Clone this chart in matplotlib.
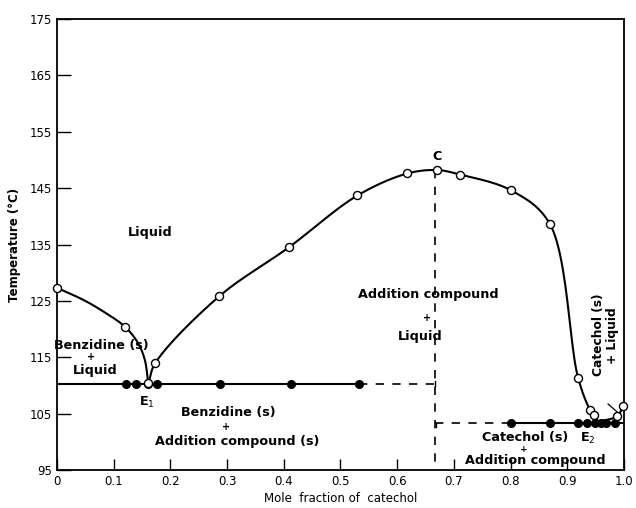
import matplotlib
matplotlib.use("Agg")
import matplotlib.pyplot as plt
import numpy as np

# liquidus trace, mole fraction of catechol vs temperature (deg C)
left_x = [0.0, 0.046, 0.082, 0.120, 0.143, 0.155, 0.161]
left_t = [127.3, 125.2, 123.1, 120.4, 117.5, 114.5, 110.3]

right_x = [0.161, 0.173, 0.286, 0.409, 0.530, 0.618, 0.671, 0.711, 0.801, 0.869, 0.919, 0.940, 0.955]
right_t = [110.3, 113.9, 125.8, 134.5, 143.7, 147.6, 148.2, 147.4, 144.6, 138.7, 111.4, 105.7, 103.6]

cat_x = [0.955, 0.987, 1.0]
cat_t = [103.6, 104.5, 106.5]

# measured points (open circles)
open_x = [0.0, 0.120, 0.160, 0.173, 0.286, 0.409, 0.530, 0.618, 0.671, 0.711, 0.801, 0.869,
          0.919, 0.940, 0.947, 0.987, 0.999]
open_t = [127.3, 120.4, 110.5, 113.9, 125.8, 134.5, 143.7, 147.6, 148.2, 147.4, 144.6, 138.7,
          111.4, 105.7, 104.8, 104.6, 106.4]

# eutectic halts (filled circles)
e1_t = 110.3
e1_x = [0.121, 0.139, 0.160, 0.177, 0.287, 0.412, 0.533]
e2_t = 103.4
e2_x = [0.801, 0.869, 0.919, 0.934, 0.949, 0.959, 0.969, 0.984]
x_comp = 0.667

xticks = [0, 0.1, 0.2, 0.3, 0.4, 0.5, 0.6, 0.7, 0.8, 0.9, 1.0]
xtick_labels = ["0", "0.1", "0.2", "0.3", "0.4", "0.5", "0.6", "0.7", "0.8", "0.9", "1.0"]
yticks = [95, 105, 115, 125, 135, 145, 155, 165, 175]

SX, ST = 567.0, 5.64  # pixels per unit, smoothing is done in screen-like space


def smooth(xs, ts, n=25):
    # centripetal Catmull-Rom through the traced points
    p = np.column_stack([np.array(xs) * SX, np.array(ts) * ST])
    p = np.vstack([2 * p[0] - p[1], p, 2 * p[-1] - p[-2]])
    out = []
    for i in range(1, len(p) - 2):
        p0, p1, p2, p3 = p[i - 1], p[i], p[i + 1], p[i + 2]
        t0 = 0.0
        t1 = t0 + np.linalg.norm(p1 - p0) ** 0.5
        t2 = t1 + np.linalg.norm(p2 - p1) ** 0.5
        t3 = t2 + np.linalg.norm(p3 - p2) ** 0.5
        t = np.linspace(t1, t2, n)[:, None]
        a1 = (t1 - t) / (t1 - t0) * p0 + (t - t0) / (t1 - t0) * p1
        a2 = (t2 - t) / (t2 - t1) * p1 + (t - t1) / (t2 - t1) * p2
        a3 = (t3 - t) / (t3 - t2) * p2 + (t - t2) / (t3 - t2) * p3
        b1 = (t2 - t) / (t2 - t0) * a1 + (t - t0) / (t2 - t0) * a2
        b2 = (t3 - t) / (t3 - t1) * a2 + (t - t1) / (t3 - t1) * a3
        c = (t2 - t) / (t2 - t1) * b1 + (t - t1) / (t2 - t1) * b2
        out.append(c)
    c = np.vstack(out)
    return c[:, 0] / SX, c[:, 1] / ST


plt.rcParams['font.family'] = 'DejaVu Sans'
plt.rcParams['font.size'] = 9.2

fig = plt.figure(figsize=(6.36, 5.08), dpi=100)
ax = fig.add_axes([0.0896, 0.0748, 0.8915, 0.8878])

lw = 1.5
for xs, ts in [(left_x, left_t), (right_x, right_t), (cat_x, cat_t)]:
    sx, st = smooth(xs, ts)
    ax.plot(sx, st, color='black', lw=lw, zorder=2)

# eutectic lines
dash = (0, (5, 5))
ax.plot([0, e1_x[-1]], [e1_t, e1_t], color='black', lw=lw, zorder=2)
ax.plot([e1_x[-1], x_comp], [e1_t, e1_t], color='black', lw=1.2, ls=dash, zorder=2)
ax.plot([x_comp, x_comp], [e1_t - 0.4, e1_t + 0.4], color='black', lw=1.0)
ax.plot([e2_x[0], 1.0], [e2_t, e2_t], color='black', lw=lw, zorder=2)
ax.plot([x_comp, e2_x[0]], [e2_t, e2_t], color='black', lw=1.2, ls=dash, zorder=2)
ax.plot([x_comp + 0.002, x_comp + 0.002], [e2_t, e2_t - 0.7], color='black', lw=1.0)
# congruent composition of the addition compound
ax.plot([x_comp, x_comp], [148.2, 95], color='black', lw=1.2, ls=dash, zorder=2)

ax.plot(e1_x, [e1_t] * len(e1_x), 'o', color='black', ms=5.5, zorder=3)
ax.plot(e2_x, [e2_t] * len(e2_x), 'o', color='black', ms=5.5, zorder=3)
ax.plot(open_x, open_t, 'o', mfc='white', mec='black', mew=1.0, ms=5.8, zorder=4, clip_on=False)

# leader line near the catechol side
ax.plot([0.972, 0.988], [106.7, 105.3], color='black', lw=0.9)

fw = 'semibold'
ax.text(0.164, 137.2, "Liquid", ha='center', va='center', fontweight=fw)
ax.text(0.079, 117.1, "Benzidine (s)", ha='center', va='center', fontweight=fw)
ax.text(0.060, 115.0, "+", ha='center', va='center', fontweight=fw, fontsize=7)
ax.text(0.068, 112.6, "Liquid", ha='center', va='center', fontweight=fw)
ax.text(0.158, 107.0, "E$_1$", ha='center', va='center', fontweight=fw)
ax.text(0.302, 105.2, "Benzidine (s)", ha='center', va='center', fontweight=fw)
ax.text(0.299, 102.7, "+", ha='center', va='center', fontweight=fw, fontsize=7)
ax.text(0.318, 100.1, "Addition compound (s)", ha='center', va='center', fontweight=fw)
ax.text(0.671, 150.6, "C", ha='center', va='center', fontweight=fw)
ax.text(0.655, 126.1, "Addition compound", ha='center', va='center', fontweight=fw)
ax.text(0.652, 121.9, "+", ha='center', va='center', fontweight=fw, fontsize=7)
ax.text(0.640, 118.6, "Liquid", ha='center', va='center', fontweight=fw)
ax.text(0.955, 119.0, "Catechol (s)", rotation=90, ha='center', va='center', fontweight=fw,
        fontsize=8.8)
ax.text(0.979, 118.8, "+ Liquid", rotation=90, ha='center', va='center', fontweight=fw,
        fontsize=8.8)
ax.text(0.826, 100.7, "Catechol (s)", ha='center', va='center', fontweight=fw)
ax.text(0.824, 98.7, "+", ha='center', va='center', fontweight=fw, fontsize=6.5)
ax.text(0.843, 96.7, "Addition compound", ha='center', va='center', fontweight=fw)
ax.text(0.937, 100.6, "E$_2$", ha='center', va='center', fontweight=fw)

ax.set_xlim(0, 1.0)
ax.set_ylim(95, 175)
ax.set_xticks(xticks)
ax.set_xticklabels(xtick_labels)
ax.set_yticks(yticks)
ax.tick_params(axis='both', direction='in', length=8, width=1.0, labelsize=8.5)
ax.tick_params(axis='y', length=10)
ax.tick_params(top=False, right=False)
for s in ax.spines.values():
    s.set_linewidth(1.3)

ax.set_xlabel("Mole  fraction of  catechol", fontsize=8.5, labelpad=3)
ax.set_ylabel("Temperature (°C)", fontsize=8.5, fontweight='bold', labelpad=6)

fig.savefig("out.png", dpi=100)
